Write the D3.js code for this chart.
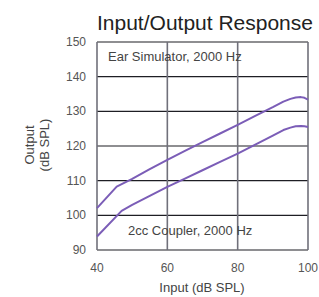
<!DOCTYPE html>
<html>
<head>
<meta charset="utf-8">
<script src="https://cdn.jsdelivr.net/npm/d3@7"></script>
<style>
  body { margin: 0; background: #fff; }
  text { font-family: "Liberation Sans", Arial, sans-serif; }
</style>
</head>
<body>
<div id="chart"></div>
<script>
// input levels (dB SPL) and output curves
let input_ear = [40, 45.6, 50, 55, 60, 65, 70, 75, 80, 85, 90, 93, 95, 96.5, 98, 99, 100];
let output_ear = [102.1, 108.3, 110.5, 113.3, 116, 118.6, 121.1, 123.6, 126.1, 128.7, 131.2, 132.8, 133.6, 134, 134.1, 133.9, 133.4];

let input_coupler = [40, 47, 50, 55, 60, 65, 70, 75, 80, 85, 90, 93, 95, 96.5, 98, 99, 100];
let output_coupler = [93.9, 101.3, 103, 105.6, 108.2, 110.6, 113, 115.4, 117.8, 120.4, 123, 124.6, 125.3, 125.7, 125.8, 125.7, 125.5];

let x_ticks = [40, 60, 80, 100];
let y_ticks = [90, 100, 110, 120, 130, 140, 150];

let svg_width = 319;
let svg_height = 297;

let plot_left = 97, plot_right = 308;
let plot_top = 42, plot_bottom = 250;

let svg = d3.select('#chart')
    .append('svg')
    .attr('width', svg_width)
    .attr('height', svg_height);

let x = d3.scaleLinear().domain([40, 100]).range([plot_left, plot_right]);
let y = d3.scaleLinear().domain([90, 150]).range([plot_bottom, plot_top]);

// horizontal grid lines (dark)
svg.selectAll('.hgrid')
    .data(y_ticks)
    .enter()
    .append('line')
    .attr('x1', plot_left)
    .attr('x2', plot_right)
    .attr('y1', d => y(d))
    .attr('y2', d => y(d))
    .attr('stroke', '#1e1e24')
    .attr('stroke-width', 1.2);

// vertical grid lines (grey, a bit wider)
svg.selectAll('.vgrid')
    .data(x_ticks)
    .enter()
    .append('line')
    .attr('x1', d => x(d))
    .attr('x2', d => x(d))
    .attr('y1', plot_top)
    .attr('y2', plot_bottom)
    .attr('stroke', '#70707a')
    .attr('stroke-width', 1.6);

// y tick labels
svg.selectAll('.ylab')
    .data(y_ticks)
    .enter()
    .append('text')
    .attr('x', 86)
    .attr('y', d => y(d) + 4)
    .attr('text-anchor', 'end')
    .attr('font-size', 12)
    .attr('fill', '#555')
    .text(d => d);

// x tick labels
svg.selectAll('.xlab')
    .data(x_ticks)
    .enter()
    .append('text')
    .attr('x', d => x(d))
    .attr('y', 272)
    .attr('text-anchor', 'middle')
    .attr('font-size', 12)
    .attr('fill', '#555')
    .text(d => d);

// curves
let line = d3.line()
    .x(d => x(d[0]))
    .y(d => y(d[1]));

svg.append('path')
    .datum(d3.zip(input_ear, output_ear))
    .attr('d', line)
    .attr('fill', 'none')
    .attr('stroke', '#7b5db7')
    .attr('stroke-width', 2)
    .attr('stroke-linejoin', 'round');

svg.append('path')
    .datum(d3.zip(input_coupler, output_coupler))
    .attr('d', line)
    .attr('fill', 'none')
    .attr('stroke', '#7b5db7')
    .attr('stroke-width', 2)
    .attr('stroke-linejoin', 'round');

// curve labels
svg.append('text')
    .attr('x', 108)
    .attr('y', 61)
    .attr('font-size', 13)
    .attr('fill', '#444')
    .text('Ear Simulator, 2000 Hz');

svg.append('text')
    .attr('x', 128)
    .attr('y', 235)
    .attr('font-size', 13)
    .attr('fill', '#444')
    .text('2cc Coupler, 2000 Hz');

// axis titles
svg.append('text')
    .attr('x', 202)
    .attr('y', 292)
    .attr('text-anchor', 'middle')
    .attr('font-size', 13)
    .attr('fill', '#444')
    .text('Input (dB SPL)');

let ytitle = svg.append('text')
    .attr('transform', 'translate(34,145) rotate(-90)')
    .attr('text-anchor', 'middle')
    .attr('font-size', 13)
    .attr('fill', '#444');
ytitle.append('tspan').attr('x', 0).attr('y', 0).text('Output');
ytitle.append('tspan').attr('x', 0).attr('y', 15).text('(dB SPL)');

// title
svg.append('text')
    .attr('x', 97)
    .attr('y', 30)
    .attr('font-size', 21)
    .attr('fill', '#222')
    .text('Input/Output Response');
</script>
</body>
</html>
